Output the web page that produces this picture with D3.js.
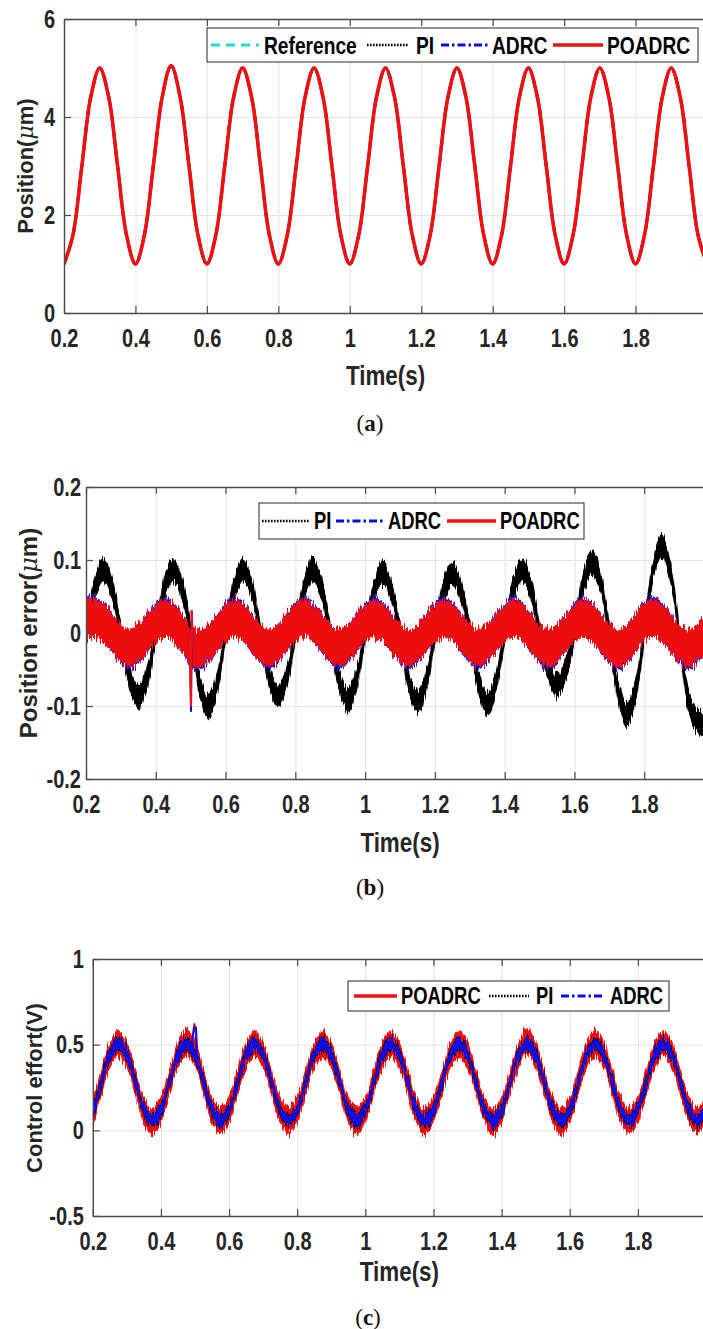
<!DOCTYPE html>
<html>
<head>
<meta charset="utf-8">
<script src="https://cdn.jsdelivr.net/npm/d3@7"></script>
<style>
  body { margin: 0; background: #fff; }
  svg { display: block; }
</style>
</head>
<body>
<svg id="fig" width="703" height="1329"></svg>
<script>
// sample times (s), shared by the three panels
const t = [0.2,0.225,0.25,0.275,0.3,0.325,0.35,0.375,
  0.4,0.425,0.45,0.475,0.5,0.525,0.55,0.575,
  0.6,0.625,0.65,0.675,0.7,0.725,0.75,0.775,
  0.8,0.825,0.85,0.875,0.9,0.925,0.95,0.975,
  1.0,1.025,1.05,1.075,1.1,1.125,1.15,1.175,
  1.2,1.225,1.25,1.275,1.3,1.325,1.35,1.375,
  1.4,1.425,1.45,1.475,1.5,1.525,1.55,1.575,
  1.6,1.625,1.65,1.675,1.7,1.725,1.75,1.775,
  1.8,1.825,1.85,1.875,1.9,1.925,1.95,1.975,
  2.0];

const xTicks = [0.2, 0.4, 0.6, 0.8, 1, 1.2, 1.4, 1.6, 1.8];

// (a) position, um -- all controllers sit on the reference at this scale
const posRef = [1,1.59,3,4.41,5,4.41,3,1.59,
  1,1.59,3,4.41,5.05,4.41,3,1.59,
  1,1.59,3,4.41,5,4.41,3,1.59,
  1,1.59,3,4.41,5,4.41,3,1.59,
  1,1.59,3,4.41,5,4.41,3,1.59,
  1,1.59,3,4.41,5,4.41,3,1.59,
  1,1.59,3,4.41,5,4.41,3,1.59,
  1,1.59,3,4.41,5,4.41,3,1.59,
  1,1.59,3,4.41,5,4.41,3,1.59,
  1];

// (b) position error, um (middle of the noisy trace)
const errPI = [-0.012,0.061,0.087,0.061,0,-0.061,-0.087,-0.061,
  0,0.061,0.087,0.061,0.002,-0.07,-0.102,-0.071,
  0,0.061,0.087,0.061,0,-0.061,-0.087,-0.061,
  0,0.061,0.087,0.061,0,-0.064,-0.092,-0.064,
  0,0.057,0.082,0.057,0,-0.066,-0.095,-0.066,
  0,0.057,0.082,0.057,0,-0.068,-0.097,-0.068,
  0,0.061,0.087,0.061,0,-0.05,-0.072,-0.05,
  0,0.068,0.097,0.068,0,-0.079,-0.113,-0.079,
  0,0.084,0.12,0.084,0,-0.088,-0.12,-0.125,
  -0.1];
const errADRC = [0.021,0.022,0.015,0,-0.015,-0.022,-0.015,0,
  0.015,0.022,0.015,0,-0.02,-0.024,-0.015,0,
  0.015,0.022,0.015,0,-0.015,-0.022,-0.015,0,
  0.015,0.023,0.015,0,-0.015,-0.022,-0.015,0,
  0.015,0.022,0.015,0,-0.015,-0.023,-0.015,0,
  0.015,0.022,0.015,0,-0.015,-0.022,-0.015,0,
  0.015,0.023,0.015,0,-0.015,-0.022,-0.015,0,
  0.015,0.023,0.015,0,-0.015,-0.023,-0.015,0,
  0.015,0.023,0.015,0,-0.015,-0.023,-0.015,0,
  0.015];
const errPOADRC = [0.02,0.02,0.014,0,-0.014,-0.02,-0.014,0,
  0.014,0.02,0.014,0,-0.018,-0.022,-0.014,0,
  0.014,0.02,0.014,0,-0.014,-0.02,-0.014,0,
  0.014,0.021,0.014,0,-0.014,-0.02,-0.014,0,
  0.014,0.02,0.014,0,-0.014,-0.021,-0.014,0,
  0.014,0.02,0.014,0,-0.014,-0.02,-0.014,0,
  0.014,0.021,0.014,0,-0.014,-0.02,-0.014,0,
  0.014,0.021,0.014,0,-0.014,-0.021,-0.014,0,
  0.014,0.021,0.014,0,-0.014,-0.021,-0.014,0,
  0.014];
// half-width of the measurement noise on each trace
const errNoise = { PI: 0.016, ADRC: 0.027, POADRC: 0.026 };
// step disturbance near t = 0.5 s
const errKickT = [0.497, 0.501, 0.503, 0.506];
const errKickADRC = [0.0, -0.107, 0.03, -0.02];
const errKickPOADRC = [0.0, -0.1, 0.03, -0.02];

// (c) control effort, V
const ctrlPOADRC = [0.09,0.28,0.439,0.505,0.439,0.28,0.121,0.055,
  0.121,0.28,0.439,0.51,0.45,0.28,0.121,0.055,
  0.121,0.28,0.439,0.505,0.439,0.28,0.121,0.06,
  0.121,0.28,0.439,0.505,0.439,0.28,0.121,0.055,
  0.121,0.28,0.439,0.505,0.439,0.28,0.121,0.05,
  0.121,0.28,0.439,0.505,0.439,0.28,0.121,0.045,
  0.121,0.28,0.439,0.52,0.439,0.28,0.121,0.055,
  0.121,0.28,0.439,0.505,0.439,0.28,0.121,0.06,
  0.121,0.28,0.439,0.505,0.439,0.28,0.121,0.06,
  0.121];
const ctrlPI = [0.09,0.28,0.44,0.505,0.44,0.28,0.12,0.055,
  0.12,0.28,0.44,0.505,0.44,0.28,0.12,0.055,
  0.12,0.28,0.44,0.505,0.44,0.28,0.12,0.055,
  0.12,0.28,0.44,0.505,0.44,0.28,0.12,0.055,
  0.12,0.28,0.44,0.505,0.44,0.28,0.12,0.055,
  0.12,0.28,0.44,0.505,0.44,0.28,0.12,0.055,
  0.12,0.28,0.44,0.505,0.44,0.28,0.12,0.055,
  0.12,0.28,0.44,0.505,0.44,0.28,0.12,0.055,
  0.12,0.28,0.44,0.505,0.44,0.28,0.12,0.055,
  0.12];
const ctrlADRC = [0.09,0.28,0.439,0.505,0.439,0.28,0.121,0.055,
  0.121,0.28,0.439,0.505,0.44,0.28,0.121,0.055,
  0.121,0.28,0.439,0.505,0.439,0.28,0.121,0.055,
  0.121,0.28,0.439,0.505,0.439,0.28,0.121,0.055,
  0.121,0.28,0.439,0.505,0.439,0.28,0.121,0.055,
  0.121,0.28,0.439,0.505,0.439,0.28,0.121,0.055,
  0.121,0.28,0.439,0.505,0.439,0.28,0.121,0.055,
  0.121,0.28,0.439,0.505,0.439,0.28,0.121,0.055,
  0.121,0.28,0.439,0.505,0.439,0.28,0.121,0.055,
  0.121];
const ctrlNoise = { POADRC: 0.078, PI: 0.04, ADRC: 0.033 };
const ctrlKickT = [0.49, 0.498, 0.503, 0.506, 0.512];
const ctrlKickPOADRC = [0.5, 0.62, 0.58, 0.42, 0.38];
const ctrlKickADRC = [0.5, 0.6, 0.6, 0.4, 0.36];

const styles = {
  Reference: { color: "#19dde6", dash: "9 6", width: 3 },
  PI: { color: "#000", dash: "1.6 1.4", width: 2.4 },
  ADRC: { color: "#0a0ae8", dash: "8 3 2.5 3", width: 3 },
  POADRC: { color: "#ee1111", dash: null, width: 3.6 }
};

// no condensed face is installed, so bold sans is squeezed sideways
const SANS = '"Liberation Sans", Arial, sans-serif';
const SQ = 0.8;

const svg = d3.select("#fig");
svg.append("rect").attr("width", 703).attr("height", 1329).attr("fill", "#fff");
const defs = svg.append("defs");

// ragged edges for the noisy measured traces
const jit = defs.append("filter").attr("id", "jitter")
  .attr("x", "-2%").attr("y", "-15%").attr("width", "104%").attr("height", "130%");
jit.append("feTurbulence").attr("type", "fractalNoise").attr("baseFrequency", "0.9 0.06")
  .attr("numOctaves", 2).attr("seed", 4).attr("result", "n");
jit.append("feColorMatrix").attr("in", "n").attr("type", "matrix")
  .attr("values", "0 0 0 0 0.5  0 1 0 0 0  0 0 0 0 0  0 0 0 0 1").attr("result", "m");
jit.append("feDisplacementMap").attr("in", "SourceGraphic").attr("in2", "m")
  .attr("scale", 16).attr("xChannelSelector", "R").attr("yChannelSelector", "G");

const fmt = d => String(+d.toFixed(2));

function squeezed(g, x, y, size, str) {
  return g.append("text").attr("x", x / SQ).attr("y", y)
    .attr("transform", `scale(${SQ},1)`)
    .attr("font-family", SANS).attr("font-weight", "bold").attr("font-size", size)
    .text(str);
}

function drawPanel(p) {
  const x = d3.scaleLinear().domain([0.2, 2]).range([p.left, p.right]);
  const y = d3.scaleLinear().domain(p.yDomain).range([p.bottom, p.top]);
  const g = svg.append("g");
  const h = p.bottom - p.top, w = p.right - p.left;

  // grid
  g.append("g").attr("transform", `translate(0,${p.bottom})`)
    .call(d3.axisBottom(x).tickValues(xTicks).tickSize(-h).tickFormat(""))
    .call(a => a.select(".domain").remove())
    .selectAll("line").attr("stroke", "#e4e4e4");
  g.append("g").attr("transform", `translate(${p.left},0)`)
    .call(d3.axisLeft(y).tickValues(p.yTicks).tickSize(-w).tickFormat(""))
    .call(a => a.select(".domain").remove())
    .selectAll("line").attr("stroke", "#e4e4e4");

  defs.append("clipPath").attr("id", "clip" + p.name)
    .append("rect").attr("x", p.left).attr("y", p.top).attr("width", w).attr("height", h);
  const plot = g.append("g").attr("clip-path", `url(#clip${p.name})`);
  p.draw(plot, x, y);

  // frame, inward ticks, labels
  const styleAxis = a => {
    a.attr("font-family", SANS).attr("font-weight", "bold").attr("font-size", 25);
    a.select(".domain").attr("stroke", "#4a4a4a").attr("stroke-width", 1.4);
    a.selectAll(".tick line").attr("stroke", "#4a4a4a").attr("stroke-width", 1.2);
    a.selectAll(".tick text").attr("fill", "#262626").attr("transform", `scale(${SQ},1)`);
  };
  g.append("g").attr("transform", `translate(0,${p.bottom})`)
    .call(d3.axisBottom(x).tickValues(xTicks).tickSizeInner(-7).tickSizeOuter(0)
      .tickPadding(p.xPad).tickFormat(fmt))
    .call(styleAxis);
  g.append("g").attr("transform", `translate(0,${p.top})`)
    .call(d3.axisTop(x).tickValues(xTicks).tickSizeInner(-7).tickSizeOuter(0).tickFormat(""))
    .call(styleAxis);
  g.append("g").attr("transform", `translate(${p.left},0)`)
    .call(d3.axisLeft(y).tickValues(p.yTicks).tickSizeInner(-7).tickSizeOuter(0)
      .tickPadding(p.yPad / SQ).tickFormat(fmt))
    .call(styleAxis);

  squeezed(g, (p.left + p.right) / 2, p.timeY, 28, "Time(s)")
    .attr("text-anchor", "middle").attr("fill", "#262626");

  const yl = g.append("text")
    .attr("transform", `translate(${p.yLabelX},${p.yLabelY}) rotate(-90)`)
    .attr("text-anchor", "middle").attr("font-family", SANS).attr("font-weight", "bold")
    .attr("font-size", p.yLabelSize).attr("fill", "#262626");
  p.yLabel.forEach(part => {
    const s = yl.append("tspan").text(part.text);
    if (part.italic) s.attr("font-style", "italic").attr("font-family", "DejaVu Serif, serif").attr("font-weight", "normal");
  });

  const cap = svg.append("text").attr("x", p.capX).attr("y", p.capY)
    .attr("text-anchor", "middle").attr("font-family", '"Liberation Serif", "Times New Roman", serif')
    .attr("font-size", 23).attr("fill", "#111");
  cap.append("tspan").text("(");
  cap.append("tspan").attr("font-weight", "bold").text(p.cap);
  cap.append("tspan").text(")");

  legend(g, p.legend);
}

function legend(g, L) {
  const cy = (L.y0 + L.y1) / 2;
  g.append("rect").attr("x", L.x0).attr("y", L.y0).attr("width", L.x1 - L.x0).attr("height", L.y1 - L.y0)
    .attr("fill", "#fff").attr("stroke", "#262626").attr("stroke-width", 1);
  L.items.forEach(it => {
    const s = styles[it.key];
    g.append("line").attr("x1", it.a).attr("x2", it.b).attr("y1", cy).attr("y2", cy)
      .attr("stroke", s.color).attr("stroke-width", s.width).attr("stroke-dasharray", s.dash);
    squeezed(g, it.tx, cy, L.size, it.key).attr("dy", "0.36em").attr("fill", "#000");
  });
}

function line(g, x, y, xs, ys, key, curve) {
  const s = styles[key];
  return g.append("path").datum(ys)
    .attr("d", d3.line().curve(curve || d3.curveCatmullRom).x((d, i) => x(xs[i])).y(d => y(d)))
    .attr("fill", "none").attr("stroke", s.color).attr("stroke-width", s.width)
    .attr("stroke-dasharray", s.dash).attr("stroke-linejoin", "round");
}

function band(g, x, y, mid, spread, key) {
  g.append("path").datum(mid)
    .attr("d", d3.area().curve(d3.curveCatmullRom)
      .x((d, i) => x(t[i])).y0(d => y(d - spread)).y1(d => y(d + spread)))
    .attr("fill", styles[key].color)
    .attr("filter", "url(#jitter)");
}

// (a)
drawPanel({
  name: "a", left: 64, right: 707, top: 19, bottom: 313,
  yDomain: [0, 6], yTicks: [0, 2, 4, 6], xPad: 16, yPad: 9,
  timeY: 385, yLabelX: 33, yLabelY: 166, yLabelSize: 22,
  yLabel: [{ text: "Position(" }, { text: "μ", italic: true }, { text: "m)" }],
  cap: "a", capX: 370, capY: 431,
  draw: (g, x, y) => {
    ["Reference", "PI", "ADRC", "POADRC"].forEach(k => line(g, x, y, t, posRef, k));
  },
  legend: { x0: 207, x1: 698, y0: 28, y1: 62, size: 24, items: [
    { key: "Reference", a: 211, b: 259, tx: 264 },
    { key: "PI", a: 367, b: 408, tx: 416 },
    { key: "ADRC", a: 441, b: 489, tx: 492 },
    { key: "POADRC", a: 553, b: 603, tx: 607 }] }
});

// (b)
drawPanel({
  name: "b", left: 86, right: 714, top: 487, bottom: 779,
  yDomain: [-0.2, 0.2], yTicks: [-0.2, -0.1, 0, 0.1, 0.2], xPad: 16, yPad: 5,
  timeY: 852, yLabelX: 37, yLabelY: 633, yLabelSize: 24,
  yLabel: [{ text: "Position error(" }, { text: "μ", italic: true }, { text: "m)" }],
  cap: "b", capX: 370, capY: 895,
  draw: (g, x, y) => {
    band(g, x, y, errPI, errNoise.PI, "PI");
    band(g, x, y, errADRC, errNoise.ADRC, "ADRC");
    band(g, x, y, errPOADRC, errNoise.POADRC, "POADRC");
    line(g, x, y, errKickT, errKickADRC, "ADRC", d3.curveLinear)
      .attr("stroke-dasharray", null).attr("stroke-width", 2);
    line(g, x, y, errKickT, errKickPOADRC, "POADRC", d3.curveLinear)
      .attr("stroke-width", 2);
  },
  legend: { x0: 259, x1: 584, y0: 503, y1: 539, size: 23, items: [
    { key: "PI", a: 262, b: 309, tx: 314 },
    { key: "ADRC", a: 336, b: 383, tx: 388 },
    { key: "POADRC", a: 447, b: 496, tx: 500 }] }
});

// (c)
drawPanel({
  name: "c", left: 92.8, right: 706, top: 959, bottom: 1216,
  yDomain: [-0.5, 1], yTicks: [-0.5, 0, 0.5, 1], xPad: 16, yPad: 9,
  timeY: 1281, yLabelX: 42, yLabelY: 1088, yLabelSize: 22,
  yLabel: [{ text: "Control effort(V)" }],
  cap: "c", capX: 368, capY: 1325,
  draw: (g, x, y) => {
    band(g, x, y, ctrlPOADRC, ctrlNoise.POADRC, "POADRC");
    band(g, x, y, ctrlPI, ctrlNoise.PI, "PI");
    band(g, x, y, ctrlADRC, ctrlNoise.ADRC, "ADRC");
    line(g, x, y, ctrlKickT, ctrlKickPOADRC, "POADRC", d3.curveLinear)
      .attr("stroke-width", 2);
    line(g, x, y, ctrlKickT, ctrlKickADRC, "ADRC", d3.curveLinear)
      .attr("stroke-dasharray", null).attr("stroke-width", 2);
  },
  legend: { x0: 348, x1: 669, y0: 981, y1: 1011, size: 23, items: [
    { key: "POADRC", a: 354, b: 397, tx: 401 },
    { key: "PI", a: 489, b: 529, tx: 536 },
    { key: "ADRC", a: 561, b: 605, tx: 610 }] }
});
</script>
</body>
</html>
